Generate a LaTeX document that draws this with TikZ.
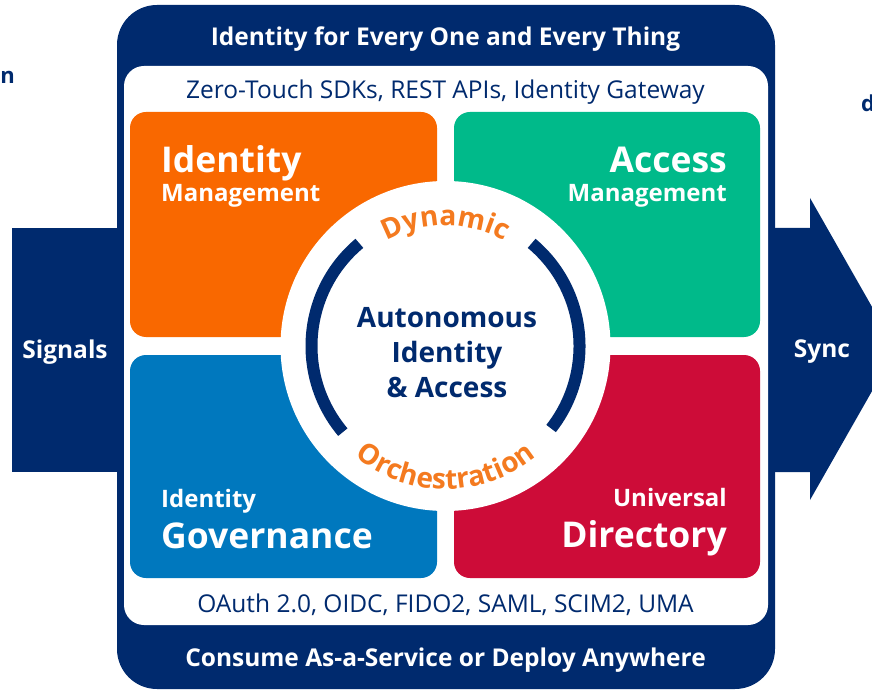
\documentclass[tikz,border=0pt]{standalone}
\usepackage{fontspec}
\setmainfont{Open Sans}
\usetikzlibrary{decorations.text}
\definecolor{navy}{HTML}{002A6E}
\definecolor{orangeQ}{HTML}{F96800}
\definecolor{greenQ}{HTML}{00BA8A}
\definecolor{blueQ}{HTML}{0078BE}
\definecolor{redQ}{HTML}{CD0C38}
\definecolor{orangeT}{HTML}{F47A1F}
\newcommand\myfs[1]{\fontsize{#1}{#1}\selectfont}
\tikzset{
  quad/.style={rounded corners=16},
  bigt/.style={text=white, font=\myfs{35.5}\bfseries, inner sep=0pt},
  smallt/.style={text=white, font=\myfs{24}\bfseries, inner sep=0pt},
  bandt/.style={text=white, font=\myfs{24.5}\bfseries, inner sep=0pt},
  listt/.style={text=navy, font=\myfs{24.5}, inner sep=0pt},
  ring/.style={navy, line width=12pt},
}
\begin{document}
\begin{tikzpicture}[x=1pt,y=1pt]
\useasboundingbox (0,0) rectangle (872,689);
\clip (0,0) rectangle (872,689);
% side arrows
\fill[navy] (12,217) rectangle (122,461);
\fill[navy] (770,217) -- (810,217) -- (810,189) -- (896,340) -- (810,491) -- (810,461) -- (770,461) -- cycle;
% outer box
\fill[navy, rounded corners=40] (117,0) rectangle (775,684);
\fill[white, rounded corners=20] (124,64) rectangle (768,623);
% quadrants
\fill[orangeQ, quad] (130,352) rectangle (437,577);
\fill[greenQ, quad] (454,352) rectangle (760,577);
\fill[blueQ, quad] (130,111) rectangle (437,334);
\fill[redQ, quad] (454,111) rectangle (760,334);
% centre circle
\fill[white] (445.5,343) circle (165);
\draw[ring] ([shift={(130:134)}]445.5,343) arc (130:220:134);
\draw[ring] ([shift={(50:134)}]445.5,343) arc (50:-38:134);
% curved words
\path[decorate, decoration={text along path, text align=center,
  text={|\myfs{28}\bfseries\color{orangeT}|Dynamic}}]
  ([shift={(160:120.5)}]445.5,343) arc (160:20:120.5);
\path[decorate, decoration={text along path, text align=center,
  text={|\myfs{28}\bfseries\color{orangeT}|Orchestration}}]
  ([shift={(200:143)}]445.5,343) arc (200:340:143);
% texts
\node[bandt] (title) at (445.5,650) {Identity for Every One and Every Thing};
\node[listt] (top) at (445.5,597) {Zero-Touch SDKs, REST APIs, Identity Gateway};
\node[listt] (bot) at (445.5,84) {OAuth 2.0, OIDC, FIDO2, SAML, SCIM2, UMA};
\node[bandt] (foot) at (445.5,29) {Consume As-a-Service or Deploy Anywhere};
\node[bigt, anchor=base west] (im1) at (161,516) {Identity};
\node[smallt, anchor=base west] (im2) at (161,487) {Management};
\node[bigt, anchor=base east] (am1) at (727,516) {Access};
\node[smallt, anchor=base east] (am2) at (727,487) {Management};
\node[smallt, anchor=base west] (ig1) at (161,182) {Identity};
\node[bigt, anchor=base west] (ig2) at (161,141) {Governance};
\node[smallt, anchor=base east] (ud1) at (727,183) {Universal};
\node[bigt, anchor=base east] (ud2) at (727,142) {Directory};
\node[text=navy, font=\fontsize{28}{35}\selectfont\bfseries, align=center, inner sep=0pt] (core) at (447,336)
  {Autonomous\\Identity\\\&~Access};
\node[text=white, font=\myfs{24.5}\bfseries, inner sep=0pt] (sig) at (65,337) {Signals};
\node[text=white, font=\myfs{24.5}\bfseries, inner sep=0pt] (sync) at (822,337) {Sync};
\node[text=navy, font=\myfs{22}\bfseries, inner sep=0pt, anchor=east] (nl) at (15,612) {n};
\node[text=navy, font=\myfs{22}\bfseries, inner sep=0pt, anchor=west] (dr) at (861,586) {d};
\end{tikzpicture}
\end{document}
